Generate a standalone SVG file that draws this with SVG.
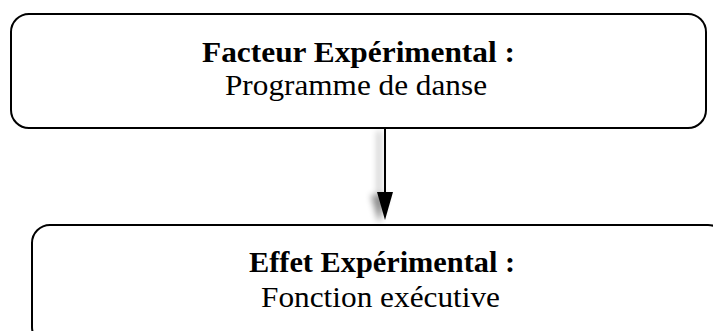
<svg xmlns="http://www.w3.org/2000/svg" width="713" height="331" viewBox="0 0 713 331">
<defs>
<style>
.box{fill:#fff;stroke:#000;stroke-width:2}
.t{font-family:"Liberation Serif","Times New Roman",serif;font-size:30px;fill:#000;text-anchor:middle}
.b{font-weight:bold}
</style>
<filter id="sh" x="-200%" y="-20%" width="400%" height="140%">
<feDropShadow dx="-6" dy="3" stdDeviation="3" flood-color="#000" flood-opacity="0.45"/>
</filter>
</defs>
<rect width="713" height="331" fill="#fff"/>
<g id="connectors">
<g filter="url(#sh)">
<line x1="385" y1="128" x2="385" y2="194" stroke="#000" stroke-width="2"/>
<polygon points="377,192 393,192 385,220" fill="#000"/>
</g>
</g>
<g id="node-facteur">
<rect class="box" x="11" y="14" width="695" height="114" rx="18"/>
<text class="t b" x="358.5" y="62" textLength="313" lengthAdjust="spacingAndGlyphs">Facteur Expérimental :</text>
<text class="t" x="356" y="95" textLength="262" lengthAdjust="spacingAndGlyphs">Programme de danse</text>
</g>
<g id="node-effet">
<rect class="box" x="32" y="225" width="694" height="120" rx="18"/>
<text class="t b" x="382" y="272" textLength="266" lengthAdjust="spacingAndGlyphs">Effet Expérimental :</text>
<text class="t" x="380.5" y="307" textLength="239" lengthAdjust="spacingAndGlyphs">Fonction exécutive</text>
</g>
</svg>
